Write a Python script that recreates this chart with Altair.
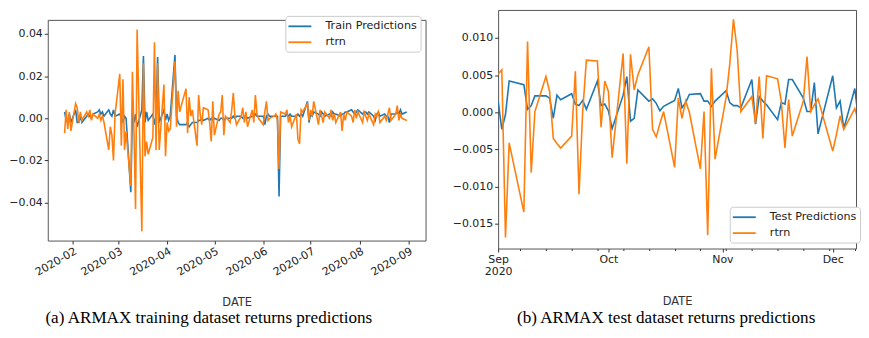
import altair as alt
import pandas as pd

# ---------------- data ----------------
# (a) training period: weekdays 2020-01-27 .. 2020-08-31
train_dates = pd.bdate_range("2020-01-27", "2020-08-31").strftime("%Y-%m-%d").tolist()

train_pred = [
    0.003, -0.001, -0.002, 0.002, -0.002,
    0.004, -0.002, -0.002, 0.001, -0.002,
    0.001, 0.002, 0.001, 0.000, 0.002,
    0.003, 0.004, 0.002, 0.003, 0.001,
    0.004, 0.002, 0.001, 0.004, 0.001,
    0.002, 0.001, -0.002, 0.001, 0.000,
    -0.035, 0.003, -0.002, 0.002, -0.004,
    0.004, 0.0295, -0.002, 0.003, -0.001,
    0.002, -0.003, 0.001, 0.029, -0.002,
    0.004, -0.001, 0.002, -0.001, 0.001,
    0.030, 0.001, -0.002, -0.003, -0.003,
    -0.003, -0.002, -0.004, -0.003, -0.002,
    -0.002, -0.001, -0.001, 0.000, -0.001,
    0.000, -0.001, 0.000, -0.001, 0.000,
    -0.001, 0.000, 0.000, -0.001, 0.000,
    0.000, 0.000, 0.001, 0.000, 0.001,
    0.001, 0.000, 0.001, 0.001, 0.000,
    0.001, 0.001, 0.002, 0.001, 0.001,
    0.001, -0.003, 0.001, 0.002, 0.001,
    0.001, 0.001, 0.001, -0.037, 0.001,
    0.001, 0.002, 0.001, 0.002, 0.001,
    0.001, 0.002, 0.001, 0.002, 0.001,
    0.008, -0.002, 0.002, 0.001, 0.003,
    0.002, 0.001, 0.003, 0.002, 0.001,
    0.002, 0.001, 0.003, 0.002, 0.002,
    0.001, 0.002, 0.002, 0.003, 0.003,
    0.004, 0.003, 0.002, 0.003, 0.004,
    0.002, 0.003, 0.003, 0.002, 0.003,
    0.001, -0.001, 0.002, 0.003, 0.001,
    0.002, 0.001, 0.001, -0.002, 0.002,
    0.002, 0.003, 0.002, 0.004, 0.002,
    0.003,
]

train_rtrn = [
    -0.007, 0.004, -0.005, 0.003, -0.006,
    0.007, 0.005, -0.002, 0.003, -0.001,
    0.003, 0.001, 0.004, -0.001, 0.002,
    0.000, 0.002, -0.001, 0.001, -0.002,
    -0.015, -0.004, -0.008, -0.020, 0.002,
    0.021, -0.013, 0.0185, -0.015, -0.006,
    -0.032, 0.022, -0.006, -0.043, 0.042,
    -0.0535, 0.026, -0.018, -0.011, -0.017,
    -0.009, 0.036, -0.015, 0.026, -0.015,
    0.016, -0.018, -0.002, -0.006, -0.005,
    0.027, -0.004, 0.013, 0.003, 0.006,
    0.014, -0.007, 0.010, 0.001, 0.004,
    -0.013, 0.011, 0.002, -0.003, 0.005,
    0.004, -0.002, -0.011, 0.008, -0.008,
    0.002, 0.003, 0.011, -0.008, 0.001,
    -0.002, 0.004, 0.012, 0.001, -0.003,
    0.001, 0.005, -0.002, 0.003, -0.004,
    0.004, -0.002, 0.011, 0.002, 0.000,
    -0.003, 0.003, 0.008, -0.001, 0.000,
    0.001, 0.002, -0.001, -0.024, 0.003,
    0.002, 0.004, -0.002, 0.001, -0.004,
    0.002, -0.010, -0.012, 0.004, 0.003,
    0.007, -0.001, 0.004, 0.001, 0.008,
    -0.003, 0.004, 0.001, -0.002, 0.003,
    0.000, 0.004, -0.001, 0.002, -0.002,
    0.003, -0.006, 0.002, -0.001, 0.003,
    0.001, -0.002, 0.004, 0.000, 0.003,
    -0.002, 0.003, 0.001, -0.001, 0.002,
    -0.003, 0.002, 0.001, 0.003, -0.002,
    0.001, -0.001, 0.002, 0.005, -0.001,
    0.002, 0.006, -0.001, 0.002, 0.000,
    -0.001,
]

# (b) test period
test_dates = [
    "2020-09-01", "2020-09-02", "2020-09-03", "2020-09-04", "2020-09-08",
    "2020-09-09", "2020-09-10", "2020-09-11", "2020-09-14", "2020-09-15",
    "2020-09-16", "2020-09-17", "2020-09-18", "2020-09-21", "2020-09-22",
    "2020-09-23", "2020-09-24", "2020-09-25", "2020-09-28", "2020-09-29",
    "2020-09-30", "2020-10-01", "2020-10-02", "2020-10-05", "2020-10-06",
    "2020-10-07", "2020-10-08", "2020-10-09", "2020-10-12", "2020-10-13",
    "2020-10-14", "2020-10-15", "2020-10-16", "2020-10-19", "2020-10-20",
    "2020-10-21", "2020-10-22", "2020-10-23", "2020-10-26", "2020-10-27",
    "2020-10-28", "2020-10-29", "2020-10-30", "2020-11-02", "2020-11-03",
    "2020-11-04", "2020-11-05", "2020-11-06", "2020-11-09", "2020-11-10",
    "2020-11-11", "2020-11-12", "2020-11-13", "2020-11-16", "2020-11-17",
    "2020-11-18", "2020-11-19", "2020-11-20", "2020-11-23", "2020-11-24",
    "2020-11-25", "2020-11-26", "2020-11-27", "2020-12-01", "2020-12-02",
    "2020-12-03", "2020-12-04", "2020-12-07", "2020-12-08", "2020-12-09",
]

test_pred = [
    0.0015, -0.0023, -0.0003, 0.0042, 0.0037,
    0.0004, 0.0009, 0.0022, 0.0022, 0.0019,
    -0.0008, 0.0023, 0.0017, 0.0025, 0.0011,
    0.0009, 0.0016, 0.0004, 0.0042, 0.0009,
    0.0011, 0.0002, -0.0022, 0.0023, 0.0048,
    -0.0012, -0.0008, 0.0030, 0.0015, 0.0018,
    0.0012, 0.0002, 0.0008, 0.0016, 0.0032,
    0.0006, 0.0013, 0.0024, 0.0025, 0.0015,
    0.0015, 0.0008, 0.0015, 0.0029, 0.0013,
    0.0009, 0.0009, 0.0006, 0.0044, -0.0016,
    0.0021, 0.0015, 0.0010, -0.0010, 0.0013,
    0.0011, 0.0044, 0.0044, 0.0019, 0.0001,
    0.0001, 0.0040, -0.0029, 0.0049, 0.0006,
    0.0015, -0.0022, 0.0032, -0.0010, 0.0022,
]

test_rtrn = [
    0.0051, 0.0057, -0.0168, -0.0041, -0.0134,
    0.0095, -0.0081, 0.0001, 0.0048, 0.0028,
    -0.0035, -0.0042, -0.0048, -0.0032, 0.0055,
    -0.0110, 0.0001, 0.0070, 0.0069, -0.0020,
    0.0042, 0.0028, -0.0061, 0.0079, -0.0069,
    0.0078, 0.0030, 0.0050, 0.0088, -0.0023,
    -0.0033, -0.0015, 0.0001, -0.0074, 0.0019,
    -0.0008, 0.0015, 0.0000, -0.0076, 0.0001,
    -0.0165, 0.0059, -0.0063, 0.0020, 0.0065,
    0.0125, 0.0084, 0.0001, 0.0021, -0.0015,
    0.0048, -0.0035, 0.0049, 0.0045, 0.0015,
    -0.0048, 0.0017, -0.0032, 0.0015, 0.0075,
    0.0001, 0.0010, 0.0018, -0.0052, -0.0030,
    -0.0005, -0.0023, 0.0005, -0.0012, 0.0039,
]

train_series = ["Train Predictions", "rtrn"]
test_series = ["Test Predictions", "rtrn"]
train_yticks = [-0.04, -0.02, 0.0, 0.02, 0.04]
test_yticks = [-0.015, -0.010, -0.005, 0.0, 0.005, 0.010]
caption_a = "(a) ARMAX training dataset returns predictions"
caption_b = "(b) ARMAX test dataset returns predictions"

# ---------------- styling ----------------
BLUE, ORANGE = "#1f77b4", "#ff7f0e"
FONT = "DejaVu Sans"
SERIF = "Liberation Serif"


def dt(y, m, d, h=0):
    return alt.DateTime(year=y, month=m, date=d, hours=h, utc=True)


def long_frame(dates, pred, rtrn, names):
    a = pd.DataFrame({"DATE": dates, "value": pred, "series": names[0]})
    b = pd.DataFrame({"DATE": dates, "value": rtrn, "series": names[1]})
    return pd.concat([a, b], ignore_index=True)


df_tr = long_frame(train_dates, train_pred, train_rtrn, train_series)
df_te = long_frame(test_dates, test_pred, test_rtrn, test_series)


def legend(x, y):
    return alt.Legend(
        title=None, orient="none", legendX=x, legendY=y,
        symbolType="M-1.92,0H1.92", symbolSize=144, symbolStrokeWidth=1.8,
        symbolOffset=4.1,
        labelFont=FONT, labelFontSize=11.2, labelColor="#222", labelOffset=18.7,
        padding=3.5, rowPadding=3, strokeColor="#cccccc", fillColor="white",
        cornerRadius=3,
    )


# ---- left panel ----
x_tr = alt.X(
    "DATE:T", title="DATE",
    scale=alt.Scale(type="utc", domain=[dt(2020, 1, 16, 8), dt(2020, 9, 11, 22)]),
    axis=alt.Axis(
        values=[dt(2020, m, 1) for m in range(2, 10)],
        labelExpr="utcFormat(datum.value, '%Y-%m')",
        labelAngle=330, labelAlign="right", labelBaseline="top",
        labelFlush=False, labelOverlap=False, labelPadding=1,
        tickSize=3.5, titlePadding=19, grid=False, domain=False,
    ),
)
y_tr = alt.Y(
    "value:Q", title=None,
    scale=alt.Scale(domain=[-0.0579, 0.0466], nice=False, zero=False),
    axis=alt.Axis(values=train_yticks, format=".2f", tickSize=3.5,
                  labelPadding=2, grid=False, domain=False),
)
c_tr = alt.Color(
    "series:N",
    scale=alt.Scale(domain=train_series, range=[BLUE, ORANGE]),
    legend=legend(239, 6),
)
base_tr = alt.Chart(df_tr).encode(x=x_tr, y=y_tr, color=c_tr)
left = alt.layer(
    base_tr.transform_filter(f"datum.series == '{train_series[0]}'")
    .mark_line(strokeWidth=1.6, clip=True),
    base_tr.transform_filter(f"datum.series == '{train_series[1]}'")
    .mark_line(strokeWidth=1.6, clip=True),
).properties(
    width=380, height=222,
    title=alt.TitleParams(caption_a, orient="bottom", font=SERIF, fontSize=17.2,
                          fontWeight="normal", color="black", offset=1.5, dx=-28),
)

spacer = (
    alt.Chart(pd.DataFrame({"s": [0]}))
    .mark_point(opacity=0, size=1, strokeWidth=0)
    .encode(x=alt.value(10), y=alt.value(4))
    .properties(width=380, height=8,
                view=alt.ViewBackground(stroke="transparent"))
)
left_col = alt.vconcat(spacer, left, spacing=0)

# ---- right panel ----
mondays = pd.date_range("2020-09-07", "2020-12-07", freq="7D")
minor_vals = [dt(d.year, d.month, d.day) for d in mondays]
major_vals = [dt(2020, m, 1) for m in (9, 10, 11, 12)]

x_te = alt.X(
    "DATE:T", title="DATE",
    scale=alt.Scale(type="utc", domain=[dt(2020, 9, 1), dt(2020, 12, 7, 8)]),
    axis=alt.Axis(
        values=major_vals + minor_vals,
        labelExpr=("utcdate(datum.value) == 1 ? (utcmonth(datum.value) == 8 ? "
                   "['Sep', '2020'] : utcFormat(datum.value, '%b')) : ''"),
        labelFlush=False, labelOverlap=False, labelPadding=2,
        labelLineHeight=12,
        tickSize={"condition": {"test": "utcdate(datum.value) == 1", "value": 3.5},
                  "value": 2},
        titlePadding=19, grid=False, domain=False,
    ),
)
y_te = alt.Y(
    "value:Q", title=None,
    scale=alt.Scale(domain=[-0.0183, 0.01375], nice=False, zero=False),
    axis=alt.Axis(values=test_yticks, format=".3f", tickSize=3.5,
                  labelPadding=2, grid=False, domain=False),
)
c_te = alt.Color(
    "series:N",
    scale=alt.Scale(domain=test_series, range=[BLUE, ORANGE]),
    legend=legend(233, 198),
)
base_te = alt.Chart(df_te).encode(x=x_te, y=y_te, color=c_te)
right = alt.layer(
    base_te.transform_filter(f"datum.series == '{test_series[0]}'")
    .mark_line(strokeWidth=1.6, clip=True),
    base_te.transform_filter(f"datum.series == '{test_series[1]}'")
    .mark_line(strokeWidth=1.6, clip=True),
).properties(
    width=360, height=240,
    title=alt.TitleParams(caption_b, orient="bottom", font=SERIF, fontSize=17.2,
                          fontWeight="normal", color="black", offset=1.5, dx=-11),
)

chart = (
    alt.hconcat(left_col, right, spacing=25)
    .resolve_scale(color="independent")
    .resolve_legend(color="independent")
    .properties(padding=0, background="white")
    .configure_view(stroke="#555555", strokeWidth=1)
    .configure_axis(
        labelFont=FONT, labelFontSize=11, labelColor="#222222",
        tickColor="#333333", titleFont=FONT, titleFontSize=11.5,
        titleFontWeight="normal", titleColor="#333333",
    )
)

chart.save("out.html", embed_options={"renderer": "svg", "actions": False})
